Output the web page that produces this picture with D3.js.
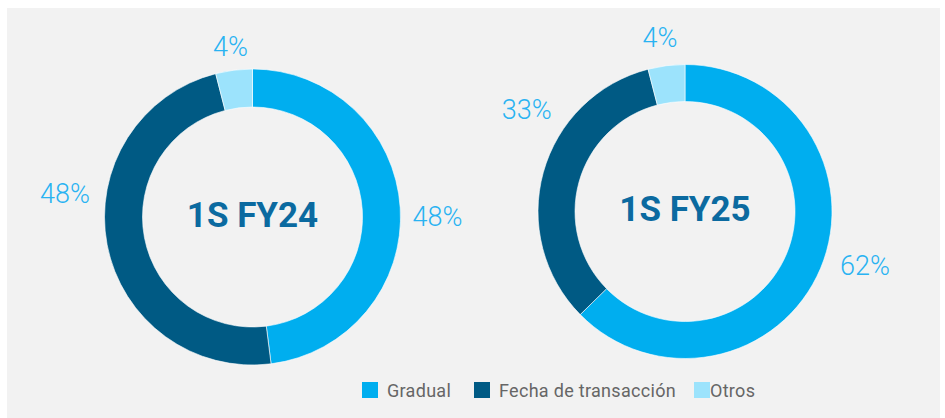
<!DOCTYPE html>
<html>
<head>
<meta charset="utf-8">
<script src="https://cdn.jsdelivr.net/npm/d3@7"></script>
<style>
  html, body { margin: 0; padding: 0; background: #ffffff; }
  svg { display: block; font-family: Roboto, "Open Sans", sans-serif; }
</style>
</head>
<body>
<svg id="chart" width="945" height="418"></svg>
<script>
// Categories and shares per period
const categories = ["Gradual", "Fecha de transacción", "Otros"];
const periods = ["1S FY24", "1S FY25"];
const valuesFY24 = [48, 48, 4];
const valuesFY25 = [62, 33, 4];
const colors = ["#00aeef", "#005a84", "#9ce3fc"];

// Label placement per slice: angle (degrees, clockwise from 12 o'clock) and radius
const labelLayout = [
  [{ a: 90, r: 185 }, { a: 277, r: 189 }, { a: 352.6, r: 171 }],
  [{ a: 106.7, r: 188 }, { a: 302.6, r: 188 }, { a: 351.8, r: 175 }]
];

const svg = d3.select("#chart");

// Panel background
svg.append("rect")
  .attr("x", 7).attr("y", 8)
  .attr("width", 933).attr("height", 410)
  .attr("fill", "#f2f2f2");

const donuts = [
  { title: periods[0], values: valuesFY24, cx: 252.5, cy: 217, outer: 148, inner: 110 },
  { title: periods[1], values: valuesFY25, cx: 685, cy: 211.5, outer: 147, inner: 110 }
];

const pie = d3.pie().sort(null).value(d => d);

donuts.forEach((dn, i) => {
  const g = svg.append("g").attr("transform", `translate(${dn.cx},${dn.cy})`);
  const arc = d3.arc().innerRadius(dn.inner).outerRadius(dn.outer);
  const arcs = pie(dn.values);

  g.selectAll("path.slice")
    .data(arcs)
    .join("path")
    .attr("class", "slice")
    .attr("d", arc)
    .attr("fill", (d, j) => colors[j])
    .attr("stroke", "#ffffff")
    .attr("stroke-width", 0.6);

  g.selectAll("text.pct")
    .data(arcs)
    .join("text")
    .attr("class", "pct")
    .attr("x", (d, j) => labelLayout[i][j].r * Math.sin(labelLayout[i][j].a * Math.PI / 180))
    .attr("y", (d, j) => -labelLayout[i][j].r * Math.cos(labelLayout[i][j].a * Math.PI / 180))
    .attr("text-anchor", "middle")
    .attr("dominant-baseline", "central")
    .attr("fill", "#29b3f2")
    .attr("font-size", 27)
    .attr("font-weight", 300)
    .text(d => `${d.data}%`);

  g.append("text")
    .attr("text-anchor", "middle")
    .attr("dominant-baseline", "central")
    .attr("y", -2)
    .attr("fill", "#0b6aa0")
    .attr("font-size", 35)
    .attr("font-weight", 700)
    .text(dn.title);
});

// Legend
const legendItems = [
  { x: 362, label: categories[0], color: colors[0] },
  { x: 474, label: categories[1], color: colors[1] },
  { x: 694, label: categories[2], color: colors[2] }
];
const lg = svg.append("g").attr("transform", "translate(0,390)");
legendItems.forEach(it => {
  lg.append("rect")
    .attr("x", it.x).attr("y", -8)
    .attr("width", 16).attr("height", 16)
    .attr("fill", it.color);
  lg.append("text")
    .attr("x", it.x + (it.label === "Otros" ? 16 : 25))
    .attr("y", 0)
    .attr("dominant-baseline", "central")
    .attr("fill", "#666666")
    .attr("font-size", 18)
    .attr("letter-spacing", 0.3)
    .text(it.label);
});
</script>
</body>
</html>
